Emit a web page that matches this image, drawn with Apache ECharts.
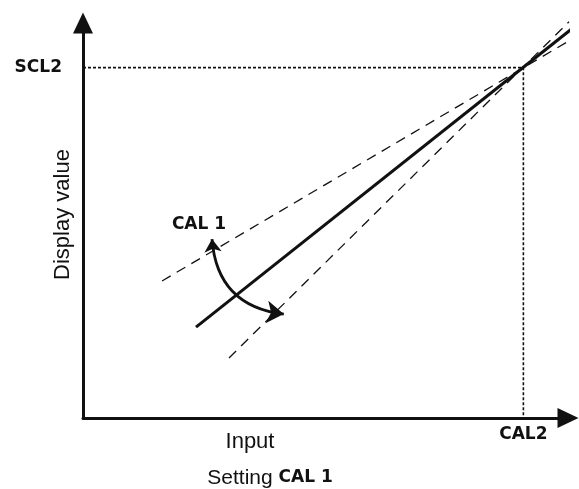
<!DOCTYPE html>
<html><head><meta charset="utf-8">
<script src="https://cdn.jsdelivr.net/npm/echarts@6/dist/echarts.min.js"></script>
<style>html,body{margin:0;padding:0;background:#fff}#c{width:579px;height:489px}</style>
</head><body><div id="c"></div>
<script>
// ---- data (chart units: 0..100 on both axes) ----
const axisRange = [0, 100];
const calPoint = [90.8, 88.7];                 // (CAL2, SCL2)
const solidLine = [[23.3, 23.0], [102.3, 100.0]];
const shallowLine = [[16.3, 34.7], [102.3, 97.0]];
const steepLine = [[30.1, 15.2], [100.2, 100.3]];
const adjustArc = [[26.6, 45.3], [41.4, 26.3]];
const xTickLabels = ['CAL2'];
const yTickLabels = ['SCL2'];
const axisNames = { x: 'Input', y: 'Display value' };
const bottomCaption = ['Setting ', 'CAL 1'];
const arcLabel = 'CAL 1';

const guideLine = [[axisRange[0], calPoint[1]], calPoint, [calPoint[0], axisRange[0]]];

const segFont = { fontFamily: 'DejaVu Sans', fontWeight: 'bold', fontSize: 17, color: '#111' };
const ink = '#111';

const chart = echarts.init(document.getElementById('c'), null, { renderer: 'canvas' });
chart.setOption({
  animation: false,
  backgroundColor: '#fff',
  grid: { left: 83, top: 23, right: 11, bottom: 71, containLabel: false, outerBoundsMode: 'none' },
  xAxis: {
    type: 'value', min: axisRange[0], max: axisRange[1],
    splitLine: { show: false }, axisTick: { show: false },
    axisLine: { lineStyle: { color: ink, width: 3 }, symbol: ['none', 'triangle'], symbolSize: [20, 21] },
    axisLabel: { customValues: [calPoint[0]], formatter: () => xTickLabels[0], margin: 8, ...segFont }
  },
  yAxis: {
    type: 'value', min: axisRange[0], max: axisRange[1],
    splitLine: { show: false }, axisTick: { show: false },
    axisLine: { lineStyle: { color: ink, width: 3 }, symbol: ['none', 'triangle'], symbolSize: [20, 21] },
    axisLabel: { customValues: [calPoint[1]], formatter: () => yTickLabels[0], margin: 21, ...segFont },
    name: axisNames.y, nameLocation: 'middle', nameRotate: 90, nameGap: 9, nameMoveOverlap: false,
    nameTextStyle: { fontFamily: 'Liberation Sans', fontSize: 22, color: ink, padding: [0, 0, 0, 12] }
  },
  series: [
    { type: 'line', data: guideLine, showSymbol: false, symbol: 'none', clip: false,
      lineStyle: { color: ink, width: 1.6, type: [3, 2] }, z: 3 },
    { type: 'line', data: shallowLine, showSymbol: false, symbol: 'none', clip: false,
      lineStyle: { color: ink, width: 1.3, type: [10, 7] }, z: 4 },
    { type: 'line', data: steepLine, showSymbol: false, symbol: 'none', clip: false,
      lineStyle: { color: ink, width: 1.3, type: [10, 7] }, z: 4 },
    { type: 'line', data: solidLine, showSymbol: false, symbol: 'none', clip: false,
      lineStyle: { color: ink, width: 3 }, z: 5 },
    { type: 'lines', coordinateSystem: 'cartesian2d', clip: false,
      symbol: ['arrow', 'arrow'], symbolSize: [13, 17],
      lineStyle: { color: ink, width: 2.8, curveness: -0.41, opacity: 1 },
      data: [{ coords: adjustArc }], z: 6 }
  ],
  graphic: [
    { type: 'text', x: 199, y: 225,
      style: { text: arcLabel, font: 'bold 17px "DejaVu Sans"', fill: ink, textAlign: 'center', textVerticalAlign: 'middle' } },
    { type: 'text', x: 250, y: 442,
      style: { text: axisNames.x, font: '22px "Liberation Sans"', fill: ink, textAlign: 'center', textVerticalAlign: 'middle' } },
    { type: 'text', x: 270, y: 478,
      style: { text: bottomCaption[0] + '{b|' + bottomCaption[1] + '}', font: '21px "Liberation Sans"', fill: ink,
        textAlign: 'center', textVerticalAlign: 'middle',
        rich: { b: { fontFamily: 'DejaVu Sans', fontWeight: 'bold', fontSize: 17, fill: ink } } } }
  ]
});
</script></body></html>
